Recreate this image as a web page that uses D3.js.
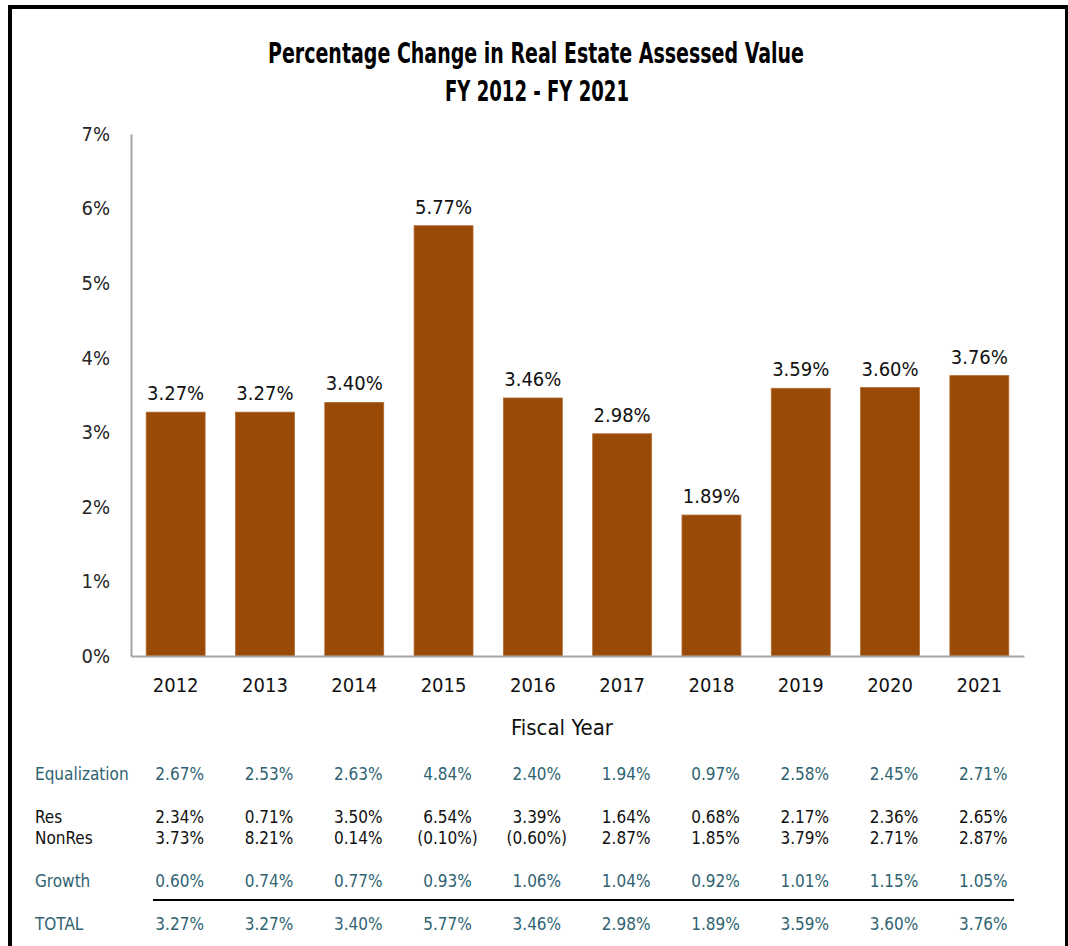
<!DOCTYPE html>
<html>
<head>
<meta charset="utf-8">
<script src="https://cdn.jsdelivr.net/npm/d3@7"></script>
<style>
  body { margin: 0; background: #fff; }
  svg text { font-family: "Liberation Sans Narrow", "Arial Narrow", "DejaVu Sans Condensed", sans-serif; }
</style>
</head>
<body>
<div id="chart"></div>
<script>
// chart data
let years = ["2012", "2013", "2014", "2015", "2016", "2017", "2018", "2019", "2020", "2021"];
let totals = [3.27, 3.27, 3.40, 5.77, 3.46, 2.98, 1.89, 3.59, 3.60, 3.76];
let yTicks = [0, 1, 2, 3, 4, 5, 6, 7];

// table rows under the chart
let equalization = ["2.67%", "2.53%", "2.63%", "4.84%", "2.40%", "1.94%", "0.97%", "2.58%", "2.45%", "2.71%"];
let resValues = ["2.34%", "0.71%", "3.50%", "6.54%", "3.39%", "1.64%", "0.68%", "2.17%", "2.36%", "2.65%"];
let nonResValues = ["3.73%", "8.21%", "0.14%", "(0.10%)", "(0.60%)", "2.87%", "1.85%", "3.79%", "2.71%", "2.87%"];
let growth = ["0.60%", "0.74%", "0.77%", "0.93%", "1.06%", "1.04%", "0.92%", "1.01%", "1.15%", "1.05%"];
let totalLabels = ["3.27%", "3.27%", "3.40%", "5.77%", "3.46%", "2.98%", "1.89%", "3.59%", "3.60%", "3.76%"];

let W = 1068, H = 946;
let teal = "#2f6372";

let svg = d3.select("#chart").append("svg")
    .attr("width", W)
    .attr("height", H);

// outer frame (bottom edge runs off the page)
svg.append("rect")
    .attr("x", 10).attr("y", 7)
    .attr("width", 1057).attr("height", 960)
    .attr("fill", "none")
    .attr("stroke", "#000")
    .attr("stroke-width", 4);

// Title
svg.append("text")
    .attr("x", 536).attr("y", 63)
    .attr("text-anchor", "middle")
    .attr("font-size", 28).attr("font-weight", "bold")
    .attr("textLength", 536).attr("lengthAdjust", "spacingAndGlyphs")
    .text("Percentage Change in Real Estate Assessed Value");
svg.append("text")
    .attr("x", 537).attr("y", 101)
    .attr("text-anchor", "middle")
    .attr("font-size", 28).attr("font-weight", "bold")
    .attr("textLength", 184).attr("lengthAdjust", "spacingAndGlyphs")
    .text("FY 2012 - FY 2021");

// Scales
let x = d3.scaleBand()
    .domain(years)
    .range([131, 1024])
    .paddingInner(0.34)
    .paddingOuter(0.17);

let y = d3.scaleLinear()
    .domain([0, 7])
    .range([656, 134]);

// y axis
let yAxis = d3.axisLeft(y)
    .tickValues(yTicks)
    .tickSize(0)
    .tickPadding(21)
    .tickFormat(d => d + "%");

let gy = svg.append("g")
    .attr("class", "y-axis")
    .attr("transform", "translate(131,0)")
    .call(yAxis);
gy.select(".domain").attr("stroke", "#a6a6a6").attr("stroke-width", 2);
gy.selectAll("text")
    .attr("font-size", 20)
    .attr("fill", "#262626")
    .style("font-family", null);

// bars
svg.append("g").selectAll("rect")
    .data(totals)
    .join("rect")
    .attr("x", (d, i) => x(years[i]))
    .attr("y", d => y(d))
    .attr("width", x.bandwidth())
    .attr("height", d => y(0) - y(d))
    .attr("fill", "#994a07")
    .attr("stroke", "#b36a30")
    .attr("stroke-width", 0.8);

// x axis
let xAxis = d3.axisBottom(x)
    .tickSize(0)
    .tickPadding(22);

let gx = svg.append("g")
    .attr("class", "x-axis")
    .attr("transform", "translate(0,656)")
    .call(xAxis);
gx.select(".domain").attr("stroke", "#a6a6a6").attr("stroke-width", 2);
gx.selectAll("text")
    .attr("font-size", 20)
    .attr("fill", "#111")
    .style("font-family", null);

// value labels
svg.append("g").selectAll("text")
    .data(totals)
    .join("text")
    .attr("x", (d, i) => x(years[i]) + x.bandwidth() / 2)
    .attr("y", d => y(d) - 12)
    .attr("text-anchor", "middle")
    .attr("font-size", 20)
    .attr("fill", "#111")
    .text(d => d.toFixed(2) + "%");

// axis title
svg.append("text")
    .attr("x", 562).attr("y", 735)
    .attr("text-anchor", "middle")
    .attr("font-size", 22)
    .attr("fill", "#111")
    .text("Fiscal Year");

// table
let colX = d => x(d) + x.bandwidth() / 2 + 4;
let rows = [
    { label: "Equalization", values: equalization, y: 780, color: teal },
    { label: "Res", values: resValues, y: 823, color: "#111" },
    { label: "NonRes", values: nonResValues, y: 844, color: "#111" },
    { label: "Growth", values: growth, y: 887, color: teal },
    { label: "TOTAL", values: totalLabels, y: 930, color: teal }
];

rows.forEach(function (row) {
    let g = svg.append("g");
    g.append("text")
        .attr("x", 35).attr("y", row.y)
        .attr("font-size", 17)
        .attr("fill", row.color)
        .text(row.label);
    g.selectAll("text.val")
        .data(row.values)
        .join("text")
        .attr("class", "val")
        .attr("x", (d, i) => colX(years[i]))
        .attr("y", row.y)
        .attr("text-anchor", "middle")
        .attr("font-size", 17)
        .attr("fill", row.color)
        .text(d => d);
});

// rule above TOTAL
svg.append("line")
    .attr("x1", 153).attr("x2", 1014)
    .attr("y1", 900).attr("y2", 900)
    .attr("stroke", "#000")
    .attr("stroke-width", 2);
</script>
</body>
</html>
